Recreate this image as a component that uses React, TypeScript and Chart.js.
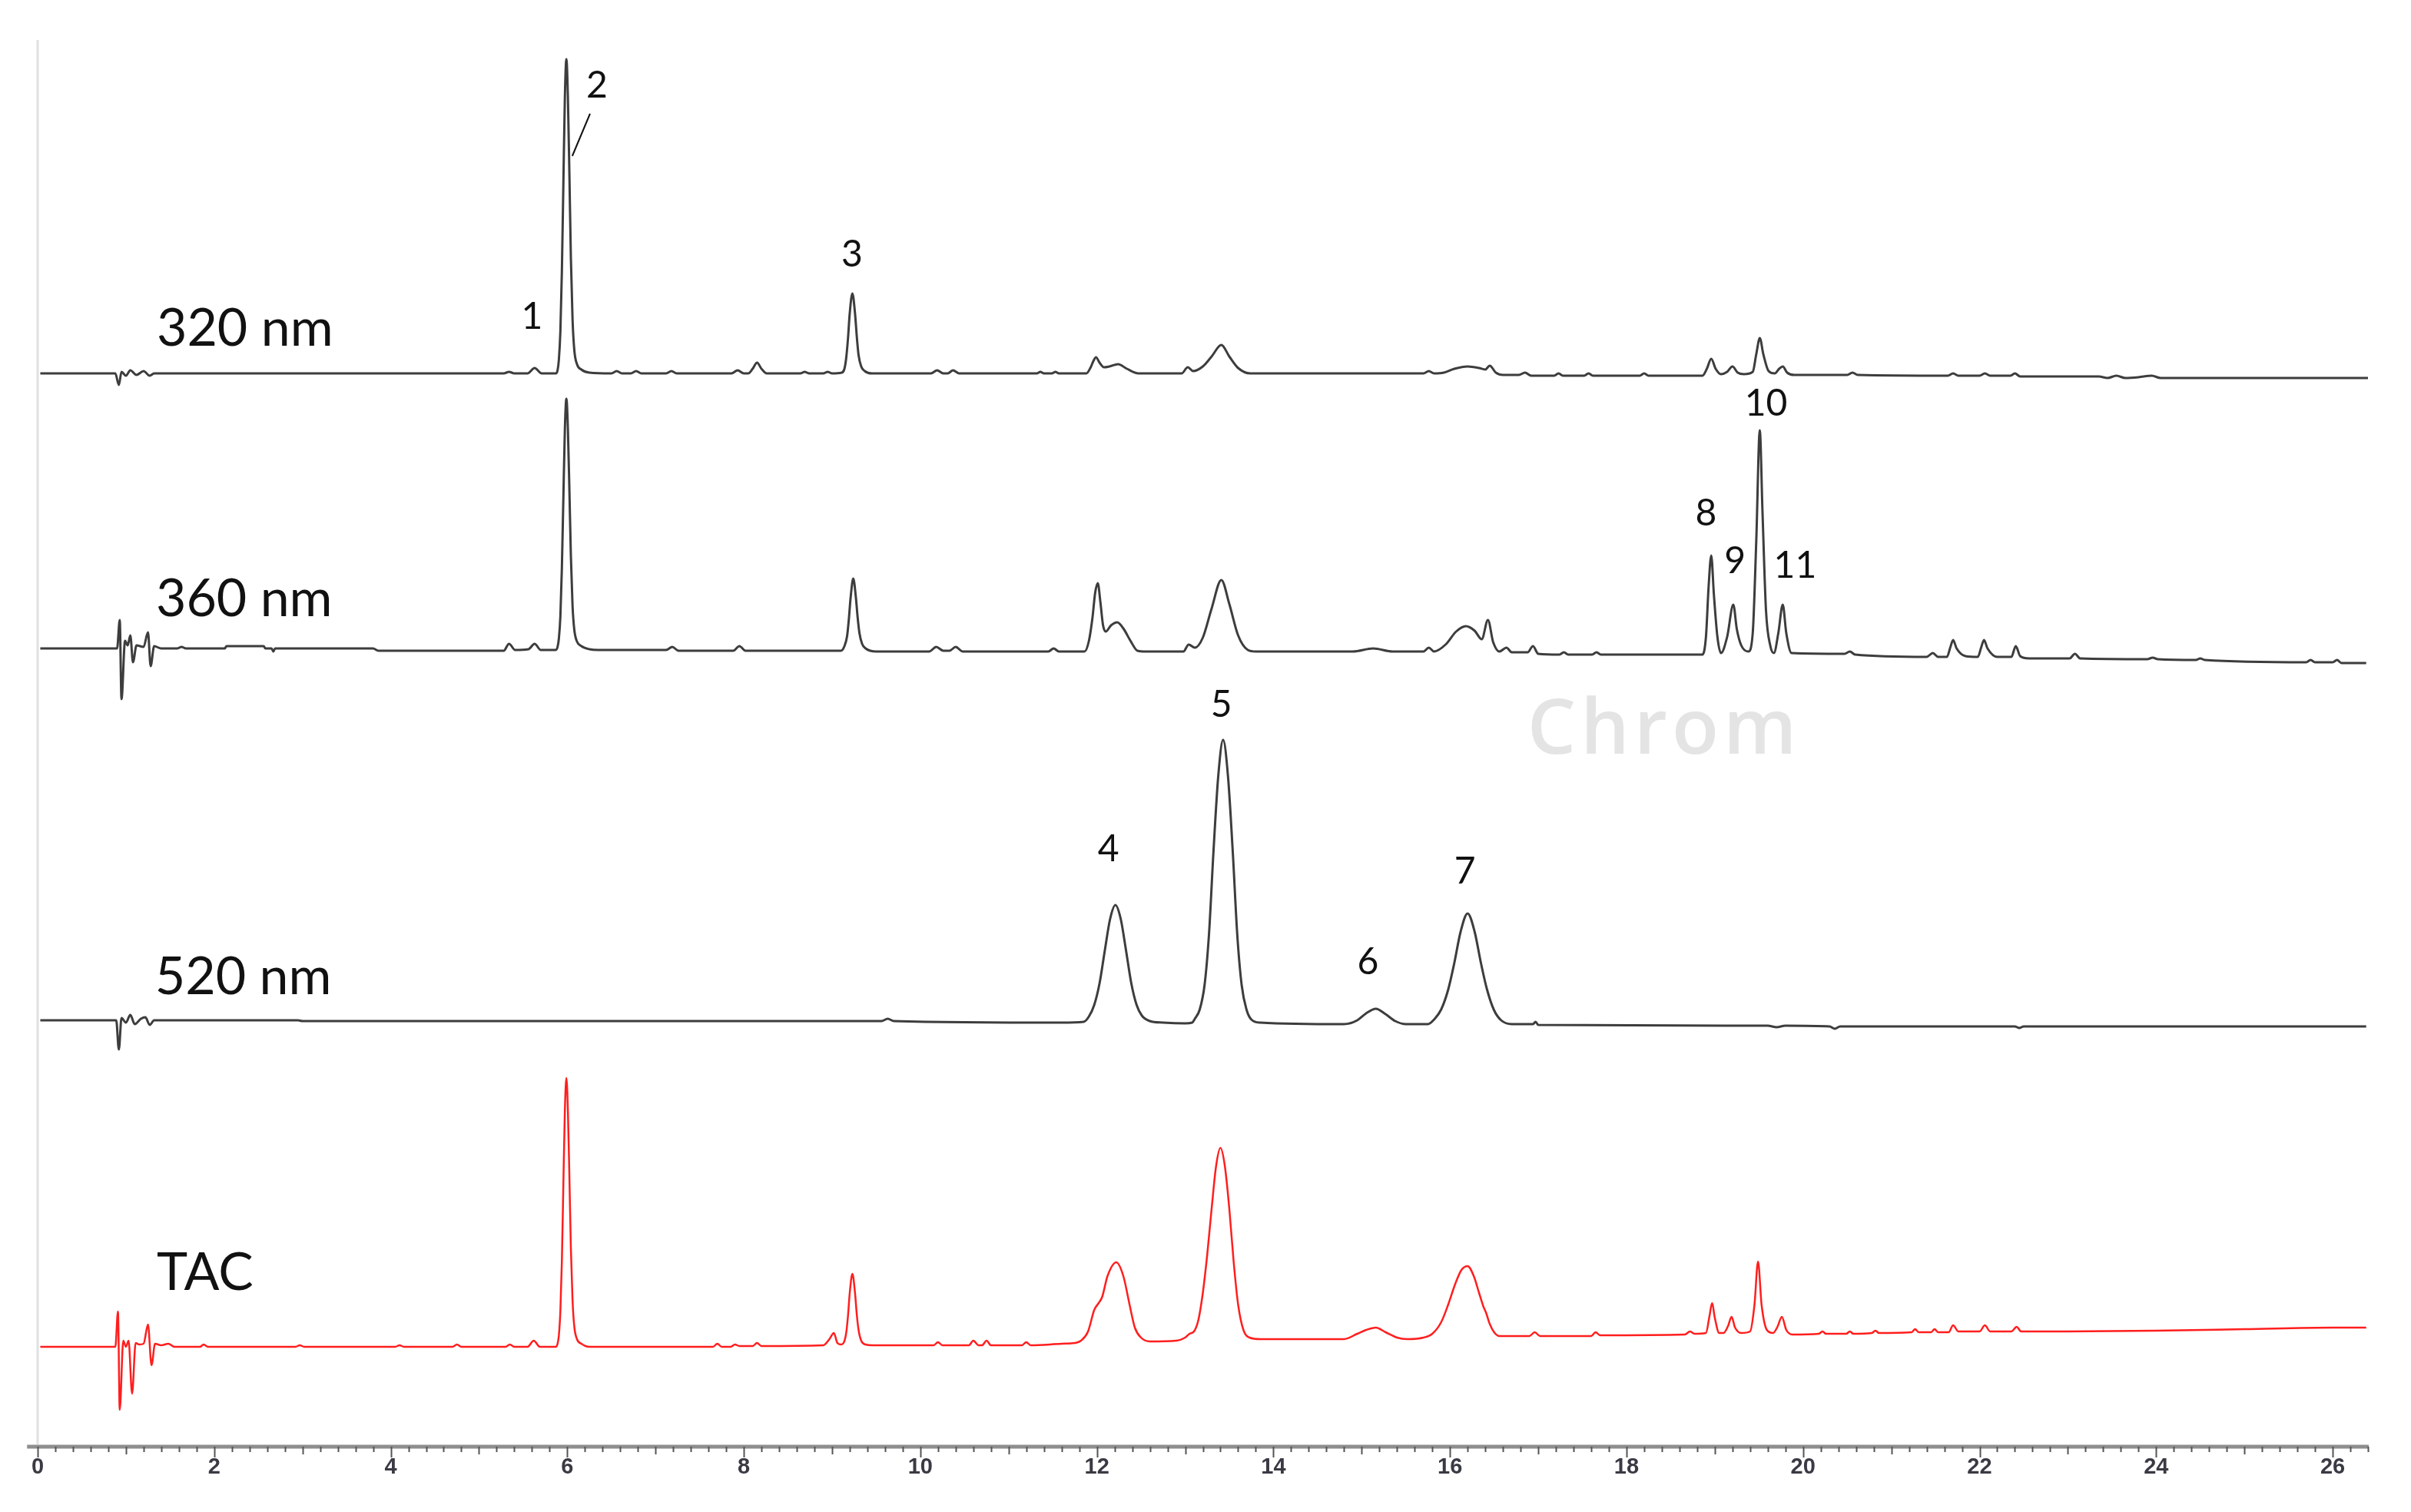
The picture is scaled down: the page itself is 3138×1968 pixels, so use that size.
import React, { useEffect, useRef } from "react";
import { Chart, registerables } from "chart.js";

Chart.register(...registerables);

// ---------- axis ----------
const X_MIN = 0;
const X_MAX = 26.4;
const X_TICK_STEP = 2;
const Y_MAX = 1831; // signal units (arbitrary), stacked

// ---------- stacked offsets of the four traces (signal units) ----------
const OFFSET_320 = 1397;
const OFFSET_360 = 1039;
const OFFSET_520 = 555;
const OFFSET_TAC = 130;

// ---------- traces: [time (min), signal above own baseline] ----------
const trace320: [number, number][] = [
  [0.03, 0], [0.88, 0], [0.92, -15], [0.95, 2], [1.0, -3], [1.05, 4], [1.12, -2], [1.2, 3], [1.27, -3], [1.32, 0],
  [5.28, 0], [5.34, 2], [5.4, 0], [5.55, 0], [5.63, 7], [5.71, 0],
  [5.87, 0], [5.89, 4], [5.905, 18], [5.922, 55], [5.939, 133], [5.956, 248], [5.973, 360], [5.99, 409],
  [6.007, 360], [6.024, 260], [6.041, 150], [6.06, 70], [6.08, 30], [6.11, 12], [6.16, 5], [6.25, 1],
  [6.5, 0], [6.56, 3], [6.62, 0], [6.72, 0], [6.78, 3], [6.84, 0], [7.12, 0], [7.18, 3], [7.24, 0],
  [7.86, 0], [7.93, 4], [8.0, 0], [8.05, 0], [8.1, 6], [8.15, 14], [8.2, 6], [8.26, 0],
  [8.64, 0], [8.69, 2], [8.74, 0], [8.9, 0], [8.95, 2], [9.0, 0],
  [9.11, 1], [9.14, 6], [9.16, 20], [9.18, 45], [9.2, 78], [9.23, 104], [9.26, 78], [9.28, 48], [9.3, 24], [9.33, 9], [9.37, 3], [9.45, 0],
  [10.12, 0], [10.19, 4], [10.26, 0], [10.31, 0], [10.37, 4], [10.44, 0],
  [11.32, 0], [11.36, 2], [11.4, 0], [11.49, 0], [11.53, 2], [11.57, 0],
  [11.88, 0], [11.93, 8], [11.96, 16], [11.99, 21], [12.03, 14], [12.08, 8], [12.14, 9], [12.24, 12], [12.34, 6], [12.47, 0],
  [12.96, 0], [13.03, 8], [13.09, 3], [13.2, 9], [13.3, 22], [13.41, 37], [13.5, 22], [13.6, 7], [13.74, 0],
  [15.7, 0], [15.76, 3], [15.82, 0], [15.93, 1], [16.05, 6], [16.2, 9], [16.33, 7], [16.4, 5], [16.45, 10], [16.52, 1], [16.6, -2],
  [16.78, -2], [16.85, 1], [16.92, -3], [17.18, -3], [17.23, 0], [17.28, -3], [17.52, -3], [17.57, 0], [17.62, -3],
  [18.15, -3], [18.2, 0], [18.25, -3],
  [18.86, -3], [18.91, 6], [18.96, 19], [19.01, 6], [19.07, -1], [19.14, 2], [19.2, 9], [19.26, 1], [19.33, -1],
  [19.43, 2], [19.47, 25], [19.51, 46], [19.55, 25], [19.61, 3], [19.68, 0], [19.73, 6], [19.77, 9], [19.82, 1], [19.9, -2],
  [20.5, -2], [20.56, 1], [20.62, -2], [21.64, -3], [21.7, 0], [21.76, -3], [22.0, -3], [22.06, 0], [22.12, -3],
  [22.35, -3], [22.4, 0], [22.46, -4], [23.35, -4], [23.45, -6], [23.55, -3], [23.65, -6], [23.8, -5], [23.95, -3], [24.05, -6], [26.4, -6],
];

const trace360: [number, number][] = [
  [0.03, 0], [0.9, 0], [0.93, 37], [0.95, -66], [0.99, 10], [1.02, 4], [1.05, 17], [1.08, -18], [1.12, 4], [1.2, 2],
  [1.25, 21], [1.28, -23], [1.32, 3], [1.4, 0], [1.58, 0], [1.63, 2], [1.68, 0], [2.12, 0], [2.14, 3], [2.56, 3], [2.58, 0],
  [2.65, 0], [2.67, -4], [2.69, 0], [3.8, 0], [3.86, -3],
  [5.28, -3], [5.34, 6], [5.41, -2], [5.56, -1], [5.63, 6], [5.7, -2],
  [5.87, -2], [5.89, 2], [5.905, 13], [5.922, 42], [5.939, 105], [5.956, 197], [5.973, 286], [5.99, 325],
  [6.007, 286], [6.024, 207], [6.041, 120], [6.06, 55], [6.08, 24], [6.11, 9], [6.16, 3], [6.25, -1], [6.35, -2],
  [7.12, -2], [7.19, 2], [7.26, -3], [7.88, -3], [7.95, 3], [8.02, -3],
  [9.1, -3], [9.14, 3], [9.17, 16], [9.19, 38], [9.21, 66], [9.24, 91], [9.27, 66], [9.29, 40], [9.31, 20], [9.34, 6], [9.38, 0], [9.5, -4],
  [10.1, -4], [10.18, 2], [10.26, -3], [10.33, -3], [10.4, 2], [10.48, -4], [11.45, -4], [11.51, 0], [11.57, -4],
  [11.86, -4], [11.91, 10], [11.95, 40], [11.98, 72], [12.01, 85], [12.04, 60], [12.07, 30], [12.1, 22], [12.16, 30],
  [12.23, 34], [12.3, 26], [12.38, 10], [12.46, -3], [12.55, -4],
  [12.98, -4], [13.04, 5], [13.11, 1], [13.2, 14], [13.3, 52], [13.41, 89], [13.5, 58], [13.6, 17], [13.71, -2], [13.8, -4],
  [14.9, -4], [15.13, 0], [15.35, -4], [15.7, -4], [15.76, 1], [15.82, -4], [15.95, 5], [16.07, 22], [16.18, 29],
  [16.28, 23], [16.36, 12], [16.43, 37], [16.49, 8], [16.56, -4], [16.64, 1], [16.7, -5], [16.88, -5], [16.94, 3], [17.0, -7],
  [17.24, -8], [17.29, -5], [17.34, -8], [17.61, -8], [17.66, -5], [17.71, -8],
  [18.86, -8], [18.9, 15], [18.93, 80], [18.96, 121], [18.99, 70], [19.03, 15], [19.07, -6], [19.14, 15], [19.21, 57],
  [19.25, 25], [19.3, 4], [19.38, -4], [19.43, 20], [19.47, 140], [19.51, 284], [19.54, 180], [19.58, 50], [19.63, 3],
  [19.67, -6], [19.72, 20], [19.77, 57], [19.81, 20], [19.87, -6],
  [20.47, -7], [20.53, -4], [20.59, -8], [21.4, -11], [21.47, -6], [21.53, -11], [21.63, -11], [21.67, 2], [21.7, 11],
  [21.74, 0], [21.84, -10], [21.98, -11], [22.02, 2], [22.05, 11], [22.09, 0], [22.2, -11], [22.36, -11], [22.41, 3],
  [22.46, -10], [22.56, -13], [23.02, -13], [23.08, -7], [23.14, -13], [23.9, -14], [23.96, -12], [24.02, -14],
  [24.45, -15], [24.5, -13], [24.55, -15], [25.7, -18], [25.75, -15], [25.8, -18], [26.0, -18], [26.05, -15], [26.1, -19], [26.38, -19],
];

const trace520: [number, number][] = [
  [0.03, 0], [0.89, 0], [0.92, -38], [0.95, 3], [1.0, -3], [1.05, 7], [1.1, -5], [1.17, 2], [1.22, 4], [1.27, -6], [1.32, 0],
  [2.95, 0], [3.0, -1], [9.56, -1], [9.63, 2], [9.7, -1], [11.6, -3],
  [11.85, -2], [11.91, 5], [11.97, 20], [12.03, 48], [12.09, 91], [12.15, 132], [12.21, 150], [12.27, 132], [12.33, 91],
  [12.39, 48], [12.45, 20], [12.51, 6], [12.6, -1], [12.75, -3], [13.0, -4],
  [13.08, -3], [13.11, 2], [13.165, 14], [13.22, 46], [13.27, 112], [13.32, 218], [13.375, 318], [13.43, 365],
  [13.485, 318], [13.54, 218], [13.59, 112], [13.64, 46], [13.695, 14], [13.75, 1], [13.85, -3],
  [14.8, -5], [14.95, 0], [15.05, 9], [15.16, 15], [15.27, 8], [15.38, -1], [15.5, -5],
  [15.75, -5], [15.82, 1], [15.9, 14], [15.98, 40], [16.05, 75], [16.12, 115], [16.2, 139], [16.28, 115], [16.35, 75],
  [16.42, 40], [16.5, 13], [16.58, 0], [16.7, -5],
  [16.94, -5], [16.97, -2], [17.0, -6], [19.6, -7], [19.7, -9], [19.8, -7], [20.3, -8], [20.36, -11], [20.42, -8],
  [22.4, -8], [22.45, -10], [22.5, -8], [26.38, -8],
];

const traceTAC: [number, number][] = [
  [0.03, 0], [0.88, 0], [0.91, 46], [0.93, -82], [0.97, 8], [1.0, 0], [1.03, 8], [1.07, -61], [1.11, 5], [1.15, 3],
  [1.2, 4], [1.25, 29], [1.29, -24], [1.33, 4], [1.4, 2], [1.48, 4], [1.55, 0], [1.84, 0], [1.88, 3], [1.93, 0],
  [2.92, 0], [2.97, 2], [3.02, 0], [4.05, 0], [4.1, 2], [4.15, 0], [4.7, 0], [4.75, 3], [4.8, 0], [5.3, 0], [5.35, 3],
  [5.4, 0], [5.55, 0], [5.62, 8], [5.69, 0],
  [5.87, 0], [5.89, 4], [5.905, 15], [5.922, 47], [5.939, 112], [5.956, 213], [5.973, 308], [5.99, 350],
  [6.007, 308], [6.024, 222], [6.041, 128], [6.06, 60], [6.08, 26], [6.11, 10], [6.16, 4], [6.25, 0],
  [7.65, 0], [7.7, 4], [7.75, 0], [7.85, 0], [7.9, 3], [7.95, 1], [8.1, 1], [8.15, 5], [8.2, 1], [8.9, 2], [8.97, 10],
  [9.02, 18], [9.06, 5], [9.1, 3],
  [9.13, 5], [9.16, 18], [9.18, 40], [9.2, 70], [9.23, 95], [9.26, 70], [9.28, 42], [9.3, 22], [9.33, 8], [9.38, 3], [9.45, 2],
  [10.15, 2], [10.2, 6], [10.25, 2], [10.55, 2], [10.6, 8], [10.66, 2], [10.7, 2], [10.75, 8], [10.8, 2], [11.15, 2],
  [11.2, 6], [11.25, 2], [11.6, 4], [11.75, 5], [11.82, 8],
  [11.9, 20], [11.97, 48], [12.02, 57], [12.06, 65], [12.12, 92], [12.22, 110], [12.3, 92], [12.37, 55], [12.43, 25],
  [12.5, 12], [12.6, 7], [12.9, 8], [13.0, 12], [13.05, 17], [13.1, 20],
  [13.15, 35], [13.2, 70], [13.25, 120], [13.3, 180], [13.35, 235], [13.4, 259], [13.45, 235], [13.5, 180], [13.55, 110],
  [13.6, 55], [13.66, 22], [13.73, 12], [13.85, 10],
  [14.8, 10], [14.95, 17], [15.05, 22], [15.16, 25], [15.27, 19], [15.4, 12], [15.52, 10], [15.7, 12],
  [15.8, 17], [15.9, 32], [15.98, 55], [16.06, 82], [16.13, 100], [16.2, 105], [16.27, 92], [16.33, 70], [16.38, 52],
  [16.41, 44], [16.45, 30], [16.5, 19], [16.56, 14],
  [16.9, 14], [16.96, 19], [17.02, 14], [17.6, 14], [17.65, 19], [17.7, 15], [18.66, 16], [18.72, 20], [18.77, 17],
  [18.9, 18], [18.94, 40], [18.97, 57], [19.0, 38], [19.05, 18], [19.1, 18], [19.15, 27], [19.19, 39], [19.23, 25],
  [19.3, 18], [19.4, 20], [19.45, 55], [19.49, 111], [19.53, 55], [19.59, 22], [19.66, 18], [19.71, 26], [19.76, 39],
  [19.81, 22], [19.88, 16],
  [20.18, 17], [20.22, 20], [20.26, 17], [20.49, 17], [20.53, 20], [20.57, 17], [20.78, 18], [20.82, 21], [20.86, 18],
  [21.23, 19], [21.27, 23], [21.31, 19], [21.45, 19], [21.49, 23], [21.53, 19], [21.65, 19], [21.7, 28], [21.76, 20],
  [22.0, 20], [22.06, 28], [22.12, 20], [22.36, 20], [22.42, 26], [22.47, 20], [23.0, 20], [24.0, 21], [25.0, 23],
  [26.0, 25], [26.38, 25],
];

// ---------- text annotations (time, stacked signal value) ----------
const peakLabels: { text: string; t: number; v: number }[] = [
  { text: "1", t: 5.6, v: 1470 },
  { text: "2", t: 6.336, v: 1771 },
  { text: "3", t: 9.226, v: 1551 },
  { text: "4", t: 12.13, v: 777 },
  { text: "5", t: 13.41, v: 965 },
  { text: "6", t: 15.07, v: 630 },
  { text: "7", t: 16.17, v: 748 },
  { text: "8", t: 18.9, v: 1214 },
  { text: "9", t: 19.23, v: 1152 },
  { text: "10", t: 19.58, v: 1357 },
  { text: "11", t: 19.91, v: 1146 },
];
const leader2 = { t1: 6.258, v1: 1735, t2: 6.057, v2: 1680 };
const traceLabels: { text: string; t: number; v: number }[] = [
  { text: "320 nm", t: 1.349, v: 1455 },
  { text: "360 nm", t: 1.34, v: 1103 },
  { text: "520 nm", t: 1.33, v: 611 },
  { text: "TAC", t: 1.349, v: 226 },
];
const watermark = { text: "Chrom", t: 16.876, v: 930 };

const GRAY = "#3d3d3d";
const RED = "#ff1e1e";

function toPoints(trace: [number, number][], offset: number) {
  return trace.map(([t, v]) => ({ x: t, y: offset + v }));
}

const overlayPlugin = {
  id: "overlay",
  beforeDatasetsDraw(chart: any) {
    const { ctx, chartArea, scales } = chart;
    const x = scales.x;
    const y = scales.y;
    ctx.save();
    // faint left axis
    ctx.strokeStyle = "#e0e0e0";
    ctx.lineWidth = 3;
    ctx.beginPath();
    ctx.moveTo(chartArea.left, chartArea.top);
    ctx.lineTo(chartArea.left, chartArea.bottom - 3);
    ctx.stroke();
    // watermark
    ctx.font = '600 100px "Open Sans"';
    ctx.fillStyle = "#e4e4e4";
    ctx.textAlign = "left";
    ctx.textBaseline = "middle";
    try { ctx.letterSpacing = "6px"; } catch (e) {}
    ctx.fillText(watermark.text, x.getPixelForValue(watermark.t), y.getPixelForValue(watermark.v));
    ctx.restore();
  },
  afterDatasetsDraw(chart: any) {
    const { ctx, chartArea, scales } = chart;
    const x = scales.x;
    const y = scales.y;
    ctx.save();
    // x axis bar with minor/medium/major ticks
    const yb = chartArea.bottom;
    ctx.strokeStyle = "#8e8e8e";
    ctx.lineWidth = 5;
    ctx.beginPath();
    ctx.moveTo(x.getPixelForValue(-0.12), yb);
    ctx.lineTo(x.getPixelForValue(X_MAX) + 1, yb);
    ctx.stroke();
    ctx.strokeStyle = "#555";
    ctx.lineWidth = 2;
    const nMinor = Math.round(X_MAX / 0.2);
    for (let i = 0; i <= nMinor; i++) {
      const px = Math.round(x.getPixelForValue(i * 0.2)) + 0.5;
      const len = i % 10 === 0 ? 14 : i % 5 === 0 ? 10 : 7;
      ctx.beginPath();
      ctx.moveTo(px, yb);
      ctx.lineTo(px, yb + len);
      ctx.stroke();
    }
    // peak numbers
    ctx.fillStyle = "#111";
    ctx.textAlign = "center";
    ctx.textBaseline = "middle";
    ctx.font = "48px Lato";
    for (const p of peakLabels) {
      ctx.fillText(p.text, x.getPixelForValue(p.t), y.getPixelForValue(p.v));
    }
    ctx.strokeStyle = "#111";
    ctx.lineWidth = 2;
    ctx.beginPath();
    ctx.moveTo(x.getPixelForValue(leader2.t1), y.getPixelForValue(leader2.v1));
    ctx.lineTo(x.getPixelForValue(leader2.t2), y.getPixelForValue(leader2.v2));
    ctx.stroke();
    // trace names
    ctx.textAlign = "left";
    ctx.font = "68px Lato";
    for (const p of traceLabels) {
      ctx.fillText(p.text, x.getPixelForValue(p.t), y.getPixelForValue(p.v));
    }
    ctx.restore();
  },
};

export default function App() {
  const canvasRef = useRef<HTMLCanvasElement | null>(null);

  useEffect(() => {
    if (!canvasRef.current) return;
    const lineDs = (label: string, trace: [number, number][], offset: number, color: string, width: number) => ({
      label,
      data: toPoints(trace, offset),
      borderColor: color,
      borderWidth: width,
      pointRadius: 0,
      fill: false,
      cubicInterpolationMode: "monotone" as const,
    });
    const chart = new Chart(canvasRef.current, {
      type: "line",
      data: {
        datasets: [
          lineDs("320 nm", trace320, OFFSET_320, GRAY, 3),
          lineDs("360 nm", trace360, OFFSET_360, GRAY, 3),
          lineDs("520 nm", trace520, OFFSET_520, GRAY, 3),
          lineDs("TAC", traceTAC, OFFSET_TAC, RED, 2.5),
        ],
      },
      options: {
        responsive: false,
        animation: false,
        events: [],
        layout: { padding: { left: 49, right: 56, top: 52, bottom: 25 } },
        plugins: { legend: { display: false }, tooltip: { enabled: false } },
        scales: {
          x: {
            type: "linear",
            min: X_MIN,
            max: X_MAX,
            grid: { display: false, drawTicks: false },
            border: { display: false },
            ticks: {
              stepSize: X_TICK_STEP,
              includeBounds: false,
              autoSkip: false,
              maxRotation: 0,
              padding: 10,
              color: "#3a3a44",
              font: { family: "'Liberation Sans', Arial, sans-serif", size: 29, weight: "bold" },
              callback: (v: any) => (Number(v) % 2 === 0 ? String(v) : ""),
            },
            afterFit: (s: any) => {
              s.height = 60;
            },
          },
          y: { display: false, min: 0, max: Y_MAX },
        },
      },
      plugins: [overlayPlugin],
    });
    return () => chart.destroy();
  }, []);

  return (
    <div style={{ position: "absolute", left: 0, top: 0, width: 3138, height: 1968, background: "#fff" }}>
      <canvas ref={canvasRef} width={3138} height={1968} style={{ display: "block" }} />
    </div>
  );
}
